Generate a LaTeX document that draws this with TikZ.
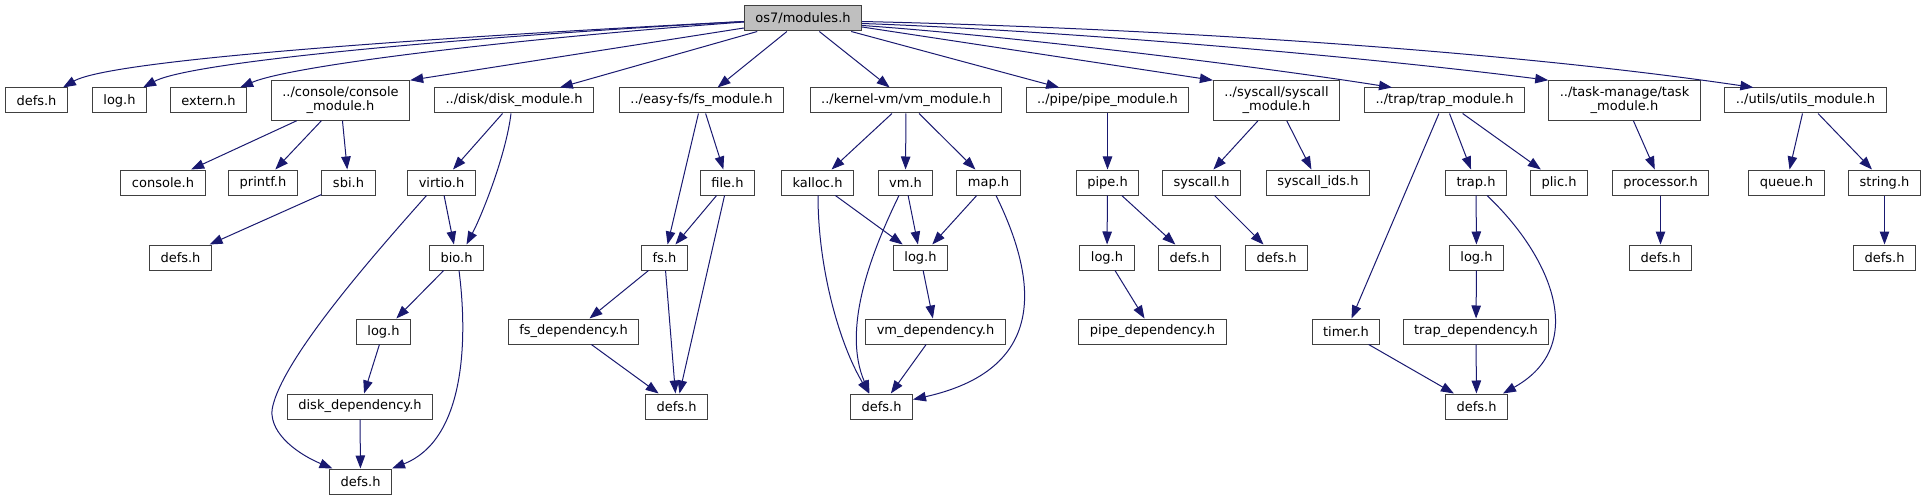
\documentclass[tikz,border=0pt]{standalone}
\usepackage{fontspec}
\setmainfont{DejaVu Sans}
\usetikzlibrary{arrows.meta}
\definecolor{edgeblue}{HTML}{191970}
\definecolor{boxline}{HTML}{404040}
\definecolor{rootfill}{HTML}{BFBFBF}
\begin{document}
\begin{tikzpicture}[x=1pt, y=-1pt, line width=1pt, font=\fontsize{13}{14}\selectfont,
  >={Triangle[length=13pt, width=9.5pt]},
  hbox/.style={draw=boxline, fill=white, rectangle, inner xsep=11pt, inner ysep=3pt, minimum height=25pt, align=center},
  hbox2/.style={hbox, minimum height=39.5pt},
  edge/.style={->, color=edgeblue}]

\useasboundingbox (0,0) rectangle (1925,500);

\node[hbox, fill=rootfill] (root) at (803,18.5) {os7/modules.h};

\node[hbox] (defsA) at (36.5,100.5) {defs.h};
\node[hbox] (logA) at (119.5,100.5) {log.h};
\node[hbox] (ext) at (208.5,100.5) {extern.h};
\node[hbox2] (cons) at (340.5,100.5) {../console/console\\\_module.h};
\node[hbox] (diskm) at (514,100.5) {../disk/disk\_module.h};
\node[hbox] (fsm) at (701.5,100.5) {../easy-fs/fs\_module.h};
\node[hbox] (vmm) at (906,100.5) {../kernel-vm/vm\_module.h};
\node[hbox] (pipem) at (1107.5,100.5) {../pipe/pipe\_module.h};
\node[hbox2] (sysm) at (1276.5,100.5) {../syscall/syscall\\\_module.h};
\node[hbox] (trapm) at (1444.5,100.5) {../trap/trap\_module.h};
\node[hbox2] (taskm) at (1624.5,100.5) {../task-manage/task\\\_module.h};
\node[hbox] (utilm) at (1805.5,100.5) {../utils/utils\_module.h};

\node[hbox] (console) at (163,182.5) {console.h};
\node[hbox] (printf) at (263,182.5) {printf.h};
\node[hbox] (sbi) at (348.5,182.5) {sbi.h};
\node[hbox] (virtio) at (441.5,182.5) {virtio.h};
\node[hbox] (file) at (727.5,182.5) {file.h};
\node[hbox] (kalloc) at (817.5,182.5) {kalloc.h};
\node[hbox] (vm) at (905.5,182.5) {vm.h};
\node[hbox] (map) at (988.5,182.5) {map.h};
\node[hbox] (pipe) at (1107.5,182.5) {pipe.h};
\node[hbox] (syscall) at (1201.5,182.5) {syscall.h};
\node[hbox] (sysids) at (1318,182.5) {syscall\_ids.h};
\node[hbox] (trap) at (1476,182.5) {trap.h};
\node[hbox] (plic) at (1559,182.5) {plic.h};
\node[hbox] (proc) at (1660.5,182.5) {processor.h};
\node[hbox] (queue) at (1786.5,182.5) {queue.h};
\node[hbox] (string) at (1884.5,182.5) {string.h};

\node[hbox] (defsS) at (180.5,257.5) {defs.h};
\node[hbox] (bio) at (456.5,257.5) {bio.h};
\node[hbox] (fs) at (664.5,257.5) {fs.h};
\node[hbox] (logV) at (920.5,257.5) {log.h};
\node[hbox] (logP) at (1107,257.5) {log.h};
\node[hbox] (defsP) at (1189.5,257.5) {defs.h};
\node[hbox] (defsC) at (1276.5,257.5) {defs.h};
\node[hbox] (logT) at (1476.5,257.5) {log.h};
\node[hbox] (defsK) at (1660.5,257.5) {defs.h};
\node[hbox] (defsU) at (1884.5,257.5) {defs.h};

\node[hbox] (logD) at (383.5,331.5) {log.h};
\node[hbox] (fsdep) at (573.5,331.5) {fs\_dependency.h};
\node[hbox] (vmdep) at (935.5,331.5) {vm\_dependency.h};
\node[hbox] (pipedep) at (1152.5,331.5) {pipe\_dependency.h};
\node[hbox] (timer) at (1346,331.5) {timer.h};
\node[hbox] (trapdep) at (1476,331.5) {trap\_dependency.h};

\node[hbox] (diskdep) at (360,406.5) {disk\_dependency.h};
\node[hbox] (defsF) at (676.5,406.5) {defs.h};
\node[hbox] (defsV) at (881.5,406.5) {defs.h};
\node[hbox] (defsT) at (1476.5,406.5) {defs.h};

\node[hbox] (defsD) at (360.5,481.5) {defs.h};

\draw[edge] ([yshift=-3pt]root.west) .. controls (420,38) and (110,60) .. ([xshift=-5pt]defsA.north east);
\draw[edge] ([yshift=-3pt]root.west) .. controls (450,38) and (190,62) .. ([xshift=-4pt]logA.north east);
\draw[edge] ([yshift=-3.5pt]root.west) .. controls (500,40) and (290,66) .. ([xshift=-7pt]ext.north east);
\draw[edge] ([yshift=-9.5pt]root.west) -- (cons.north east);
\draw[edge] (root) -- (diskm);
\draw[edge] (root) -- (fsm);
\draw[edge] (root) -- (vmm);
\draw[edge] (root) -- (pipem);
\draw[edge] ([yshift=-8.5pt]root.east) -- (sysm.north west);
\draw[edge] ([yshift=-7pt]root.east) .. controls (1000,35) and (1250,65) .. ([xshift=28pt]trapm.north west);
\draw[edge] ([yshift=-5pt]root.east) .. controls (1050,30) and (1350,55) .. (taskm.north west);
\draw[edge] ([yshift=-3pt]root.east) .. controls (1150,28) and (1500,50) .. ([xshift=29pt]utilm.north west);

\draw[edge] (cons) -- (console);
\draw[edge] (cons) -- (printf);
\draw[edge] (cons) -- (sbi);
\draw[edge] (sbi) -- (defsS);

\draw[edge] (diskm) -- (virtio);
\draw[edge] ([xshift=-3pt]diskm.south) .. controls (506,155) and (482,215) .. ([xshift=10pt]bio.north);
\draw[edge] (virtio) -- (bio);
\draw[edge] ([xshift=-15pt]virtio.south) .. controls (380,248) and (280,360) .. (272,410) .. controls (270,435) and (300,455) .. ([xshift=-28pt]defsD.north);
\draw[edge] (bio) -- (logD);
\draw[edge] ([xshift=2.5pt]bio.south) .. controls (468,340) and (465,440) .. (defsD.north east);
\draw[edge] (logD) -- (diskdep);
\draw[edge] (diskdep) -- (defsD);

\draw[edge] (fsm) -- (fs);
\draw[edge] (fsm) -- (file);
\draw[edge] (file) -- (fs);
\draw[edge] (file) -- (defsF);
\draw[edge] (fs) -- (fsdep);
\draw[edge] (fs) -- (defsF);
\draw[edge] (fsdep) -- (defsF);

\draw[edge] (vmm) -- (kalloc);
\draw[edge] (vmm) -- (vm);
\draw[edge] (vmm) -- (map);
\draw[edge] (kalloc) -- (logV);
\draw[edge] ([xshift=0.5pt]kalloc.south) .. controls (818,270) and (840,345) .. ([xshift=-12.5pt]defsV.north);
\draw[edge] (vm) -- (logV);
\draw[edge] ([xshift=-6.5pt]vm.south) .. controls (870,255) and (842,330) .. ([xshift=-12pt]defsV.north);
\draw[edge] (map) -- (logV);
\draw[edge] ([xshift=7.5pt]map.south) .. controls (1040,285) and (1045,370) .. ([yshift=7pt]defsV.east);
\draw[edge] (logV) -- (vmdep);
\draw[edge] (vmdep) -- (defsV);

\draw[edge] (pipem) -- (pipe);
\draw[edge] (pipe) -- (logP);
\draw[edge] (pipe) -- (defsP);
\draw[edge] (logP) -- (pipedep);

\draw[edge] (sysm) -- (syscall);
\draw[edge] (sysm) -- (sysids);
\draw[edge] (syscall) -- (defsC);

\draw[edge] (trapm) -- (timer);
\draw[edge] (trapm) -- (trap);
\draw[edge] (trapm) -- (plic);
\draw[edge] (trap) -- (logT);
\draw[edge] ([xshift=11pt]trap.south) .. controls (1550,255) and (1590,345) .. ([xshift=-5pt]defsT.north east);
\draw[edge] (logT) -- (trapdep);
\draw[edge] (trapdep) -- (defsT);
\draw[edge] (timer) -- (defsT);

\draw[edge] (taskm) -- (proc);
\draw[edge] (proc) -- (defsK);

\draw[edge] (utilm) -- (queue);
\draw[edge] (utilm) -- (string);
\draw[edge] (string) -- (defsU);
\end{tikzpicture}
\end{document}
